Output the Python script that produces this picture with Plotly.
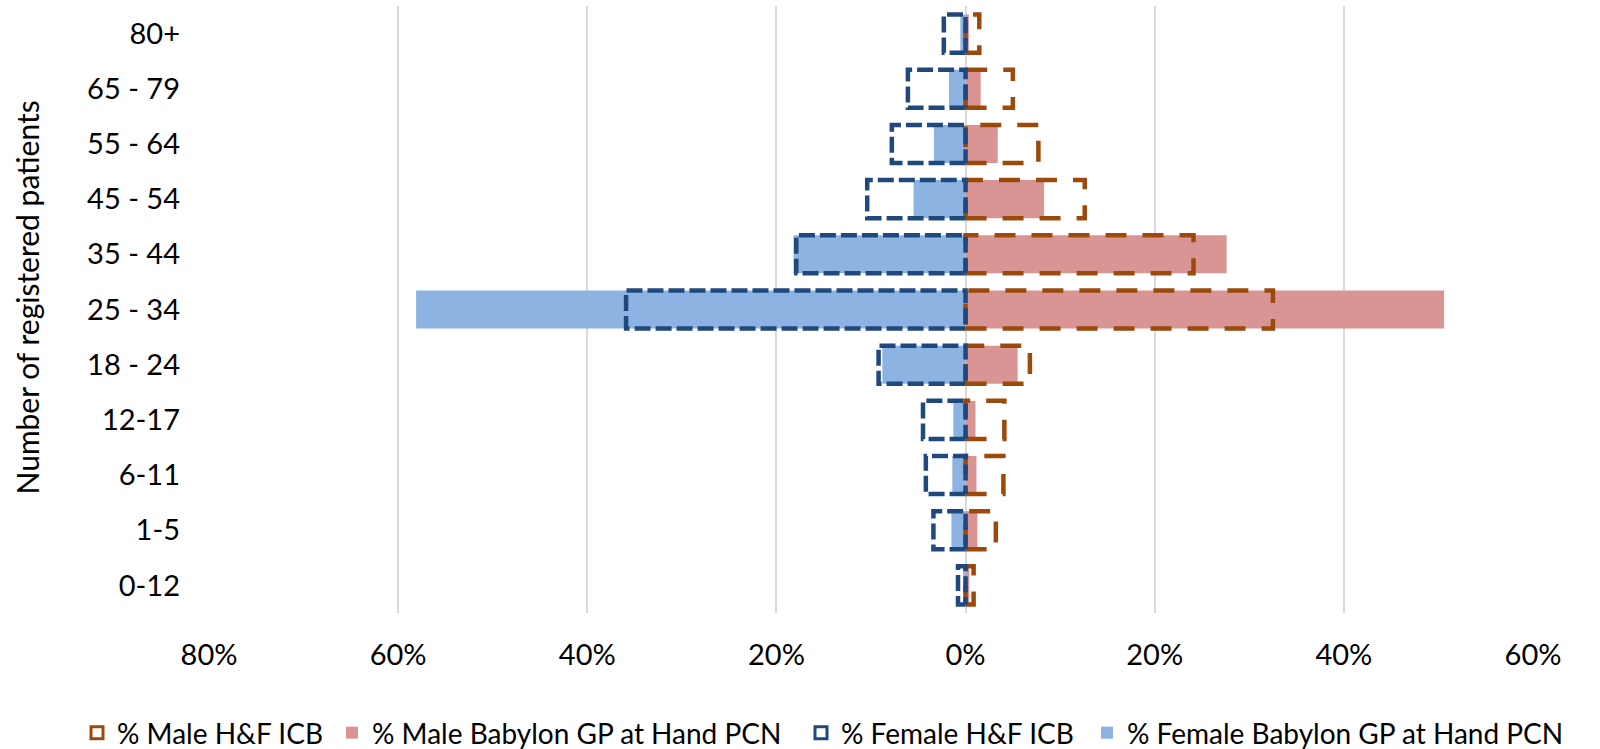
import plotly.graph_objects as go

age_groups = ["0-12", "1-5", "6-11", "12-17", "18 - 24", "25 - 34", "35 - 44", "45 - 54", "55 - 64", "65 - 79", "80+"]
male_icb = [0.85, 3.2, 4.0, 4.1, 6.8, 32.5, 24.1, 12.6, 7.7, 5.0, 1.45]
male_babylon = [0.4, 1.25, 1.15, 1.05, 5.5, 50.6, 27.6, 8.3, 3.4, 1.6, 0.35]
female_icb = [0.8, 3.4, 4.2, 4.5, 9.2, 35.9, 17.9, 10.4, 7.8, 6.1, 2.3]
female_babylon = [0.25, 1.5, 1.4, 1.3, 8.8, 58.1, 18.2, 5.5, 3.35, 1.75, 0.55]
tick_vals = [-80, -60, -40, -20, 0, 20, 40, 60]
tick_text = ["80%", "60%", "40%", "20%", "0%", "20%", "40%", "60%"]

BAR_W = 0.69
FONT = "Lato"
FS = 29
LEG_FS = 28

C_MALE_ICB = "#9C4A0C"
C_MALE_BAB = "#D99594"
C_FEM_ICB = "#1F497D"
C_FEM_BAB = "#8DB3E2"

pos = list(range(len(age_groups)))


def outline(values, sign):
    xs, ys = [], []
    h = BAR_W / 2
    for i, v in zip(pos, values):
        v = sign * v
        xs += [0, v, v, 0, 0, None]
        ys += [i - h, i - h, i + h, i + h, i - h, None]
    return xs, ys


fig = go.Figure()

fig.add_trace(go.Bar(
    y=pos, x=male_babylon, orientation="h", width=BAR_W,
    marker=dict(color=C_MALE_BAB, line=dict(width=0)),
    name="% Male Babylon GP at Hand PCN", legend="legend2",
))
fig.add_trace(go.Bar(
    y=pos, x=[-v for v in female_babylon], orientation="h", width=BAR_W,
    marker=dict(color=C_FEM_BAB, line=dict(width=0)),
    name="% Female Babylon GP at Hand PCN", legend="legend4",
))

mx, my = outline(male_icb, 1)
fig.add_trace(go.Scatter(
    x=mx, y=my, mode="lines",
    line=dict(color=C_MALE_ICB, width=4.5, dash="21px,16px"),
    name="% Male H&F ICB", showlegend=False,
))
fx, fy = outline(female_icb, -1)
fig.add_trace(go.Scatter(
    x=fx, y=fy, mode="lines",
    line=dict(color=C_FEM_ICB, width=4.5, dash="16px,5px"),
    name="% Female H&F ICB", showlegend=False,
))

# legend entries for the outlined series (boxed icon like the original)
fig.add_trace(go.Bar(
    y=[None], x=[None], orientation="h",
    marker=dict(color="rgba(255,255,255,0)", line=dict(color=C_MALE_ICB, width=3)),
    name="% Male H&F ICB", legend="legend",
))
fig.add_trace(go.Bar(
    y=[None], x=[None], orientation="h",
    marker=dict(color="rgba(255,255,255,0)", line=dict(color=C_FEM_ICB, width=3)),
    name="% Female H&F ICB", legend="legend3",
))


def leg(text_start):
    return dict(
        orientation="h", xref="container", yref="container",
        x=(text_start - 40) / 1600, xanchor="left",
        y=1 - 733 / 749, yanchor="middle",
        font=dict(family=FONT, size=LEG_FS), itemwidth=30,
        bgcolor="rgba(0,0,0,0)",
    )


fig.update_layout(
    width=1600, height=749,
    barmode="overlay",
    plot_bgcolor="white", paper_bgcolor="white",
    margin=dict(l=209, r=67, t=6, b=136, autoexpand=False),
    font=dict(family=FONT, size=FS, color="#000000"),
    showlegend=True,
    legend=leg(117),
    legend2=leg(372),
    legend3=leg(841),
    legend4=leg(1127),
    xaxis=dict(
        range=[-80, 60], tickvals=tick_vals, ticktext=tick_text,
        showgrid=True, gridcolor="#D9D9D9", gridwidth=1.5,
        zeroline=True, zerolinecolor="#D9D9D9", zerolinewidth=1.5,
        showline=False, ticks="", ticklabelstandoff=22, automargin=False,
        tickfont=dict(family=FONT, size=FS),
    ),
    yaxis=dict(
        range=[-0.5, 10.5], tickvals=pos, ticktext=age_groups,
        showgrid=False, zeroline=False, showline=False, ticks="",
        ticklabelstandoff=28, automargin=False,
        tickfont=dict(family=FONT, size=FS),
    ),
    annotations=[dict(
        text="Number of registered patients", textangle=-90,
        xref="paper", yref="paper", x=-0.1337, y=0.5,
        xanchor="center", yanchor="middle", showarrow=False,
        xshift=-5, yshift=12,
        font=dict(family=FONT, size=30),
    )],
)

fig.write_html("out.html", post_script="document.body.style.margin='0px';",
               config={"displayModeBar": False})
